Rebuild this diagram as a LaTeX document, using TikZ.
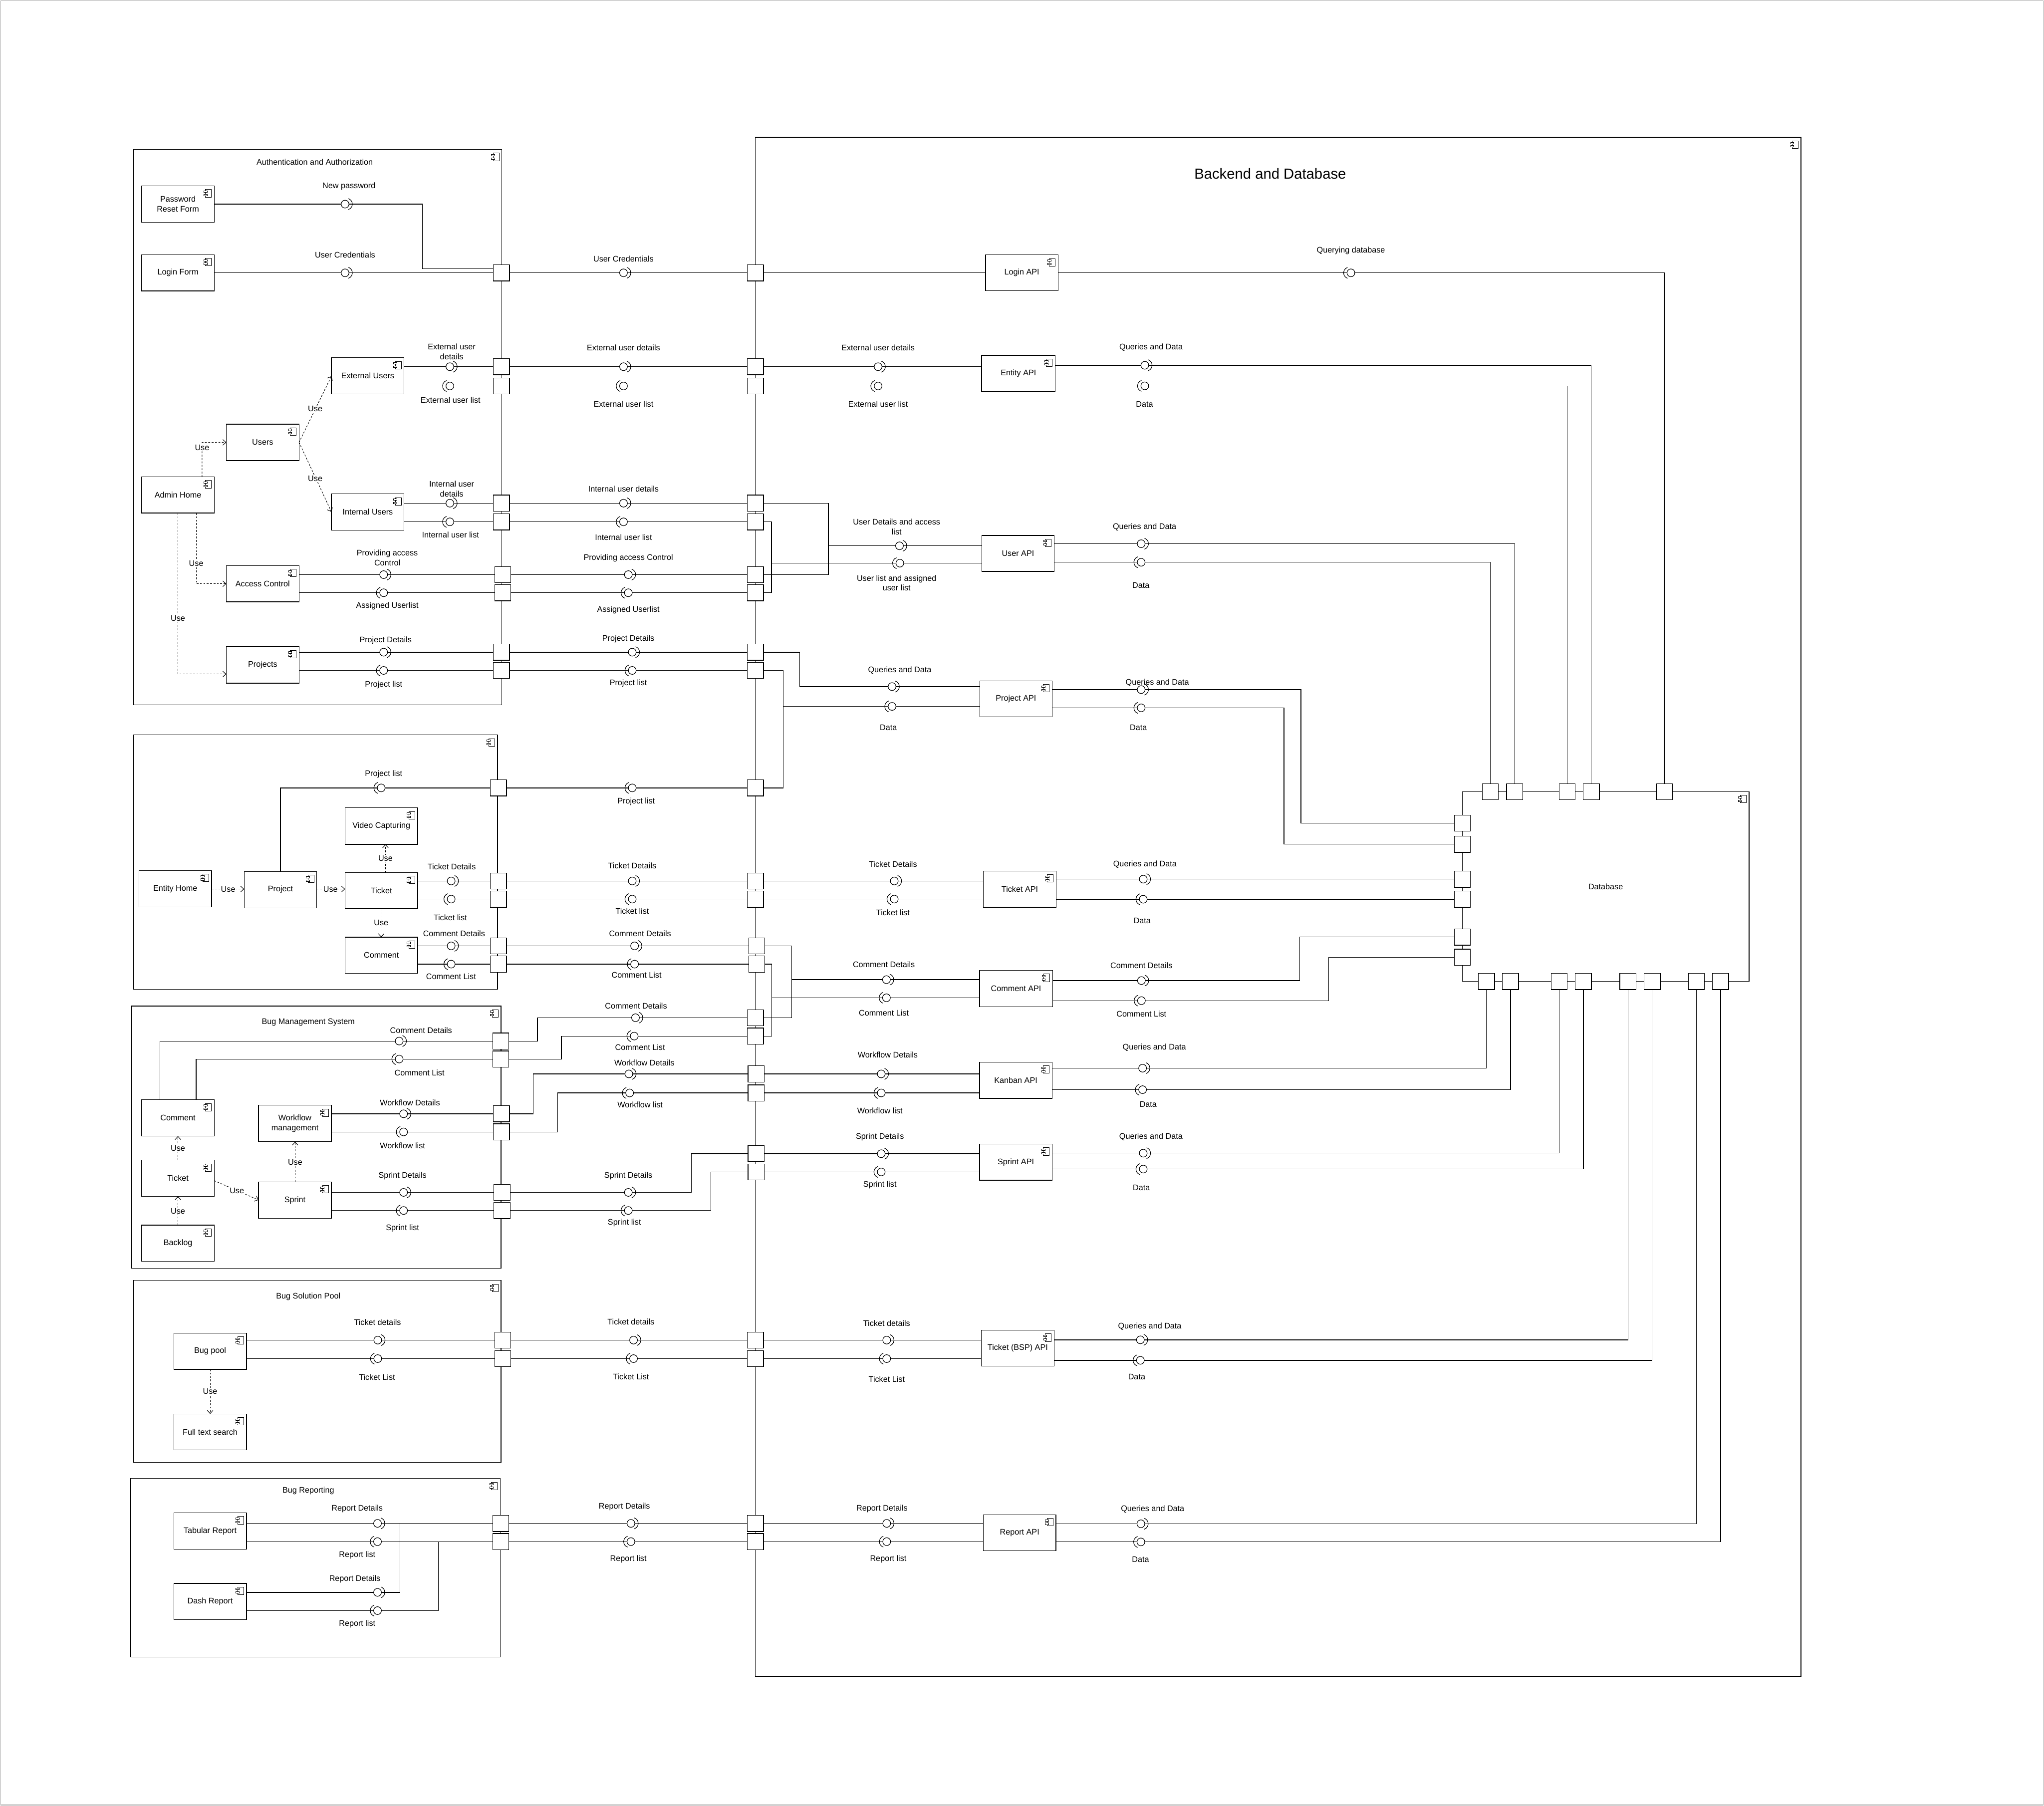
\documentclass[tikz,border=0pt]{standalone}
\usepackage{fontspec}
\setmainfont{Liberation Sans}
\usetikzlibrary{arrows.meta}
\newcommand\lblfont{\fontsize{6.2}{7.6}\selectfont}
\newcommand\ttlfont{\fontsize{11.2}{13}\selectfont}
\newcounter{lbc}
\tikzset{
 comp/.style={draw,line width=0.5pt,inner sep=0pt,outer sep=0pt,align=center,font=\lblfont},
 portbox/.style={draw,fill=white,line width=0.5pt,minimum width=12.4pt,minimum height=12.4pt,inner sep=0pt,outer sep=0pt},
 wire/.style={line width=0.5pt},
 usearr/.style={line width=0.4pt,dash pattern=on 1.4pt off 1.2pt,-{Straight Barb[length=2.4pt,width=4.4pt]}},
 lbl/.style={font=\lblfont,align=center,inner sep=0pt},
 uselbl/.style={font=\lblfont,fill=white,inner sep=0.5pt},
 cicon/.pic={\draw[line width=0.35pt,fill=white] (-4.6pt,0pt) rectangle (0pt,-5.8pt);
   \draw[line width=0.35pt,fill=white] (-5.9pt,-1.0pt) rectangle (-3.3pt,-2.2pt);
   \draw[line width=0.35pt,fill=white] (-5.9pt,-3.6pt) rectangle (-3.3pt,-4.8pt);},
 lolR/.pic={\draw[line width=0.45pt,fill=white] (0pt,0pt) circle[radius=3pt];
   \draw[line width=0.45pt] (1.2pt,0pt) ++(-72:4.4pt) arc[start angle=-72,end angle=72,radius=4.4pt];},
 lolL/.pic={\draw[line width=0.45pt,fill=white] (0pt,0pt) circle[radius=3pt];
   \draw[line width=0.45pt] (-1.2pt,0pt) ++(108:4.4pt) arc[start angle=108,end angle=252,radius=4.4pt];},
}
\newcommand\mkbox[6]{%
 \pgfmathsetmacro\bw{#4-#2}\pgfmathsetmacro\bh{#5-#3}%
 \node[comp,minimum width=\bw pt,minimum height=\bh pt] (#1) at ({(#2+#4)/2},{(#3+#5)/2}) {#6};%
 \pic at ([shift={(-2.2pt,-2.8pt)}]#1.north east) {cicon};}
\newcommand\port[3]{\node[portbox] (#1) at (#2,#3) {};}
\newcommand\lab[3]{\stepcounter{lbc}\node[lbl] (lb\arabic{lbc}) at (#1,#2) {#3};}
\newcommand\uselab[3]{\stepcounter{lbc}\node[uselbl] (lb\arabic{lbc}) at (#1,#2) {#3};}
\newcommand\lolr[2]{\pic at (#1,#2) {lolR};}
\newcommand\loll[2]{\pic at (#1,#2) {lolL};}
\begin{document}
\begin{tikzpicture}[x=1pt,y=-1pt]
\useasboundingbox (0,0) rectangle (1568,1385.2);
\draw[gray!70,line width=0.5pt] (0.6,0.6) rectangle (1567.4,1384.6);

% ---------- containers ----------
\mkbox{auth}{102.5}{114.7}{385}{540.8}{}
\mkbox{ent}{102.5}{563.8}{381.7}{759}{}
\mkbox{bms}{100.9}{771.7}{384.3}{973}{}
\mkbox{bsp}{102.5}{982.2}{384.3}{1121.8}{}
\mkbox{rep}{100.3}{1134.2}{383.7}{1271.1}{}
\mkbox{back}{579.4}{105.3}{1381.6}{1285.8}{}
\mkbox{db}{1121.8}{607.3}{1341.7}{752.9}{Database}

\lab{241.4}{124.3}{Authentication and Authorization}
\stepcounter{lbc}\node[lbl,font=\ttlfont] (lb\arabic{lbc}) at (974.4,133.4) {Backend and Database};
\lab{236.5}{784.2}{Bug Management System}
\lab{236.5}{994.7}{Bug Solution Pool}
\lab{236.5}{1143.5}{Bug Reporting}

% ---------- components ----------
\mkbox{pwd}{108.6}{142.6}{164.4}{170.6}{Password\\Reset Form}
\mkbox{loginf}{108.6}{195.3}{164.4}{223.2}{Login Form}
\mkbox{extu}{254.2}{274.4}{310}{302.1}{External Users}
\mkbox{users}{173.6}{325.4}{229.4}{353.3}{Users}
\mkbox{admin}{108.6}{365.8}{164.4}{393.5}{Admin Home}
\mkbox{intu}{254.2}{378.9}{310}{406.7}{Internal Users}
\mkbox{acc}{173.6}{433.9}{229.4}{461.7}{Access Control}
\mkbox{projs}{173.6}{496.1}{229.4}{524.1}{Projects}

\mkbox{ehome}{106.6}{667.7}{162.3}{695.8}{Entity Home}
\mkbox{eproj}{187.3}{668.5}{243}{696.4}{Project}
\mkbox{eticket}{264.7}{669.3}{320.4}{697.1}{Ticket}
\mkbox{video}{264.7}{619.7}{320.4}{647.7}{Video Capturing}
\mkbox{ecomm}{264.7}{718.9}{320.4}{746.7}{Comment}

\mkbox{bcomm}{108.6}{843.6}{164.4}{871.5}{Comment}
\mkbox{bticket}{108.6}{889.9}{164.4}{917.7}{Ticket}
\mkbox{backlog}{108.6}{939.8}{164.4}{967.6}{Backlog}
\mkbox{wflow}{198.3}{847.8}{254.2}{875.8}{Workflow\\management}
\mkbox{sprint}{198.3}{906.6}{254.2}{934.6}{Sprint}

\mkbox{bugpool}{133.3}{1022.6}{189.1}{1050.4}{Bug pool}
\mkbox{fts}{133.3}{1084.6}{189.1}{1112.3}{Full text search}

\mkbox{tab}{133.3}{1160.5}{189.1}{1188.3}{Tabular Report}
\mkbox{dash}{133.3}{1214.6}{189.1}{1242.5}{Dash Report}

\mkbox{loginapi}{756}{195.5}{811.7}{223}{Login API}
\mkbox{entapi}{753}{272.6}{809.5}{300.5}{Entity API}
\mkbox{userapi}{753.2}{410.7}{808.6}{438.3}{User API}
\mkbox{projapi}{751.6}{522.3}{807.1}{550}{Project API}
\mkbox{tickapi}{754.4}{668.1}{810.2}{695.9}{Ticket API}
\mkbox{commapi}{751.4}{744.4}{807.4}{772.2}{Comment API}
\mkbox{kanapi}{751.4}{814.8}{807.1}{842.6}{Kanban API}
\mkbox{sprapi}{751.4}{877.6}{807.1}{905.4}{Sprint API}
\mkbox{bspapi}{752.8}{1020.4}{808.6}{1048}{Ticket (BSP) API}
\mkbox{repapi}{754.3}{1161.9}{810}{1189.7}{Report API}

% ---------- ports ----------
\port{pa1}{384.7}{209.3}
\port{pa2}{384.7}{281.3}
\port{pa3}{384.7}{296.1}
\port{pa4}{384.7}{386}
\port{pa5}{384.7}{400.3}
\port{pa6}{385.7}{440.8}
\port{pa7}{385.7}{454.7}
\port{pa8}{384.7}{500.3}
\port{pa9}{384.7}{514.3}
\port{pe1}{382.3}{604.4}
\port{pe2}{382.3}{675.8}
\port{pe3}{382.3}{689.7}
\port{pe4}{382.3}{725.6}
\port{pe5}{382.3}{739.6}
\port{pm1}{384.2}{798.6}
\port{pm2}{384.2}{812.4}
\port{pm3}{384.7}{854.4}
\port{pm4}{384.7}{868.3}
\port{pm5}{385.1}{914.7}
\port{pm6}{385.1}{928.6}
\port{ps1}{385.7}{1028}
\port{ps2}{385.7}{1042.2}
\port{pr1}{384.2}{1168.6}
\port{pr2}{384.2}{1182.6}
\port{pb1}{579.5}{209.3}
\port{pb2}{579.5}{281.3}
\port{pb3}{579.5}{296.1}
\port{pb4}{579.5}{386}
\port{pb5}{579.5}{400.3}
\port{pb6}{579.5}{440.8}
\port{pb7}{579.5}{454.7}
\port{pb8}{579.5}{500.3}
\port{pb9}{579.5}{514.3}
\port{pb10}{579.5}{604.4}
\port{pb11}{579.5}{675.8}
\port{pb12}{579.5}{689.7}
\port{pb13}{580.5}{725.6}
\port{pb14}{580.5}{739.6}
\port{pb15}{579.5}{780.7}
\port{pb16}{579.5}{794.8}
\port{pb17}{580}{823.8}
\port{pb18}{580}{838.4}
\port{pb19}{580}{885}
\port{pb20}{580}{899}
\port{pb21}{579.5}{1028}
\port{pb22}{579.5}{1042.2}
\port{pb23}{579.5}{1168.6}
\port{pb24}{579.5}{1182.6}
\port{pt1}{1143.3}{607.3}
\port{pt2}{1161.9}{607.3}
\port{pt3}{1202.2}{607.3}
\port{pt4}{1220.7}{607.3}
\port{pt5}{1276.7}{607.3}
\port{pl1}{1121.8}{631.4}
\port{pl2}{1121.8}{647.6}
\port{pl3}{1121.8}{674.4}
\port{pl4}{1121.8}{689.8}
\port{pl5}{1121.8}{718.8}
\port{pl6}{1121.8}{734.3}
\port{pq1}{1140.3}{752.9}
\port{pq2}{1158.7}{752.9}
\port{pq3}{1196.1}{752.9}
\port{pq4}{1214.6}{752.9}
\port{pq5}{1248.8}{752.9}
\port{pq6}{1267.4}{752.9}
\port{pq7}{1301.4}{752.9}
\port{pq8}{1319.9}{752.9}

% ---------- wires ----------
% password / login
\draw[wire] (pwd.east) -- (324,156.6) -- (324,206.2) -- (pa1.west |- 0,206.2);
\draw[wire] (loginf.east |- pa1) -- (pa1.west);
\draw[wire] (pa1.east) -- (pb1.west);
\draw[wire] (pb1.east) -- (loginapi.west |- pb1);
\draw[wire] (loginapi.east |- pb1) -- (pt5.north |- pb1) -- (pt5.north);
% external users
\draw[wire] (extu.east |- pa2) -- (pa2.west);
\draw[wire] (pa2.east) -- (pb2.west);
\draw[wire] (pb2.east) -- (entapi.west |- pb2);
\draw[wire] (entapi.east |- 0,280.2) -- (pt4.north |- 0,280.2) -- (pt4.north);
\draw[wire] (extu.east |- pa3) -- (pa3.west);
\draw[wire] (pa3.east) -- (pb3.west);
\draw[wire] (pb3.east) -- (entapi.west |- pb3);
\draw[wire] (entapi.east |- 0,296) -- (pt3.north |- 0,296) -- (pt3.north);
% internal users / access control -> User API
\draw[wire] (intu.east |- pa4) -- (pa4.west);
\draw[wire] (pa4.east) -- (pb4.west);
\draw[wire] (pb4.east) -- (635.5,386) -- (635.5,440.8) -- (pb6.east);
\draw[wire] (intu.east |- pa5) -- (pa5.west);
\draw[wire] (pa5.east) -- (pb5.west);
\draw[wire] (pb5.east) -- (591.8,400.3) -- (591.8,454.7) -- (pb7.east);
\draw[wire] (acc.east |- pa6) -- (pa6.west);
\draw[wire] (pa6.east) -- (pb6.west);
\draw[wire] (acc.east |- pa7) -- (pa7.west);
\draw[wire] (pa7.east) -- (pb7.west);
\draw[wire] (635.5,418.7) -- (userapi.west |- 0,418.7);
\draw[wire] (591.8,432) -- (userapi.west |- 0,432);
\draw[wire] (userapi.east |- 0,417.1) -- (pt2.north |- 0,417.1) -- (pt2.north);
\draw[wire] (userapi.east |- 0,431.3) -- (pt1.north |- 0,431.3) -- (pt1.north);
% projects
\draw[wire] (projs.east |- pa8) -- (pa8.west);
\draw[wire] (pa8.east) -- (pb8.west);
\draw[wire] (pb8.east) -- (613.4,500.3) -- (613.4,526.7) -- (projapi.west |- 0,526.7);
\draw[wire] (projs.east |- pa9) -- (pa9.west);
\draw[wire] (pa9.east) -- (pb9.west);
\draw[wire] (pb9.east) -- (600.8,514.3) -- (600.8,541.9) -- (projapi.west |- 0,541.9);
\draw[wire] (600.8,541.9) -- (600.8,604.4) -- (pb10.east);
\draw[wire] (projapi.east |- 0,529) -- (998,529) -- (998,631.4) -- (pl1.west);
\draw[wire] (projapi.east |- 0,543) -- (985,543) -- (985,647.6) -- (pl2.west);
% entity: project list
\draw[wire] (eproj.north) -- (eproj.north |- pe1) -- (pe1.west);
\draw[wire] (pe1.east) -- (pb10.west);
% entity: ticket
\draw[wire] (eticket.east |- pe2) -- (pe2.west);
\draw[wire] (pe2.east) -- (pb11.west);
\draw[wire] (pb11.east) -- (tickapi.west |- pb11);
\draw[wire] (eticket.east |- pe3) -- (pe3.west);
\draw[wire] (pe3.east) -- (pb12.west);
\draw[wire] (pb12.east) -- (tickapi.west |- pb12);
\draw[wire] (tickapi.east |- pl3) -- (pl3.west);
\draw[wire] (tickapi.east |- pl4) -- (pl4.west);
% entity: comment
\draw[wire] (ecomm.east |- pe4) -- (pe4.west);
\draw[wire] (pe4.east) -- (pb13.west);
\draw[wire] (pb13.east) -- (607.3,725.6) -- (607.3,780.7) -- (pb15.east);
\draw[wire] (ecomm.east |- pe5) -- (pe5.west);
\draw[wire] (pe5.east) -- (pb14.west);
\draw[wire] (pb14.east) -- (592,739.6) -- (592,794.8) -- (pb16.east);
\draw[wire] (607.3,751.5) -- (commapi.west |- 0,751.5);
\draw[wire] (592,765.4) -- (commapi.west |- 0,765.4);
\draw[wire] (commapi.east |- 0,752.2) -- (997,752.2) -- (997,718.8) -- (pl5.west);
\draw[wire] (commapi.east |- 0,767.6) -- (1019.3,767.6) -- (1019.3,734.3) -- (pl6.west);
% BMS: comment
\draw[wire] (bcomm.north -| 122.7,0) -- (122.7,798.6) -- (pm1.west);
\draw[wire] (pm1.east) -- (412.3,798.6) -- (412.3,780.7) -- (pb15.west);
\draw[wire] (bcomm.north -| 150.5,0) -- (150.5,812.4) -- (pm2.west);
\draw[wire] (pm2.east) -- (430.6,812.4) -- (430.6,794.8) -- (pb16.west);
% BMS: workflow
\draw[wire] (wflow.east |- pm3) -- (pm3.west);
\draw[wire] (pm3.east) -- (409.1,854.4) -- (409.1,823.8) -- (pb17.west);
\draw[wire] (wflow.east |- pm4) -- (pm4.west);
\draw[wire] (pm4.east) -- (427.7,868.3) -- (427.7,838.4) -- (pb18.west);
\draw[wire] (pb17.east) -- (kanapi.west |- pb17);
\draw[wire] (pb18.east) -- (kanapi.west |- pb18);
\draw[wire] (kanapi.east |- 0,819.4) -- (pq1.south |- 0,819.4) -- (pq1.south);
\draw[wire] (kanapi.east |- 0,835.9) -- (pq2.south |- 0,835.9) -- (pq2.south);
% BMS: sprint
\draw[wire] (sprint.east |- pm5) -- (pm5.west);
\draw[wire] (pm5.east) -- (530.3,914.7) -- (530.3,885) -- (pb19.west);
\draw[wire] (sprint.east |- pm6) -- (pm6.west);
\draw[wire] (pm6.east) -- (545.3,928.6) -- (545.3,899) -- (pb20.west);
\draw[wire] (pb19.east) -- (sprapi.west |- pb19);
\draw[wire] (pb20.east) -- (sprapi.west |- pb20);
\draw[wire] (sprapi.east |- 0,884.6) -- (pq3.south |- 0,884.6) -- (pq3.south);
\draw[wire] (sprapi.east |- 0,896.8) -- (pq4.south |- 0,896.8) -- (pq4.south);
% BSP
\draw[wire] (bugpool.east |- ps1) -- (ps1.west);
\draw[wire] (ps1.east) -- (pb21.west);
\draw[wire] (pb21.east) -- (bspapi.west |- pb21);
\draw[wire] (bugpool.east |- ps2) -- (ps2.west);
\draw[wire] (ps2.east) -- (pb22.west);
\draw[wire] (pb22.east) -- (bspapi.west |- pb22);
\draw[wire] (bspapi.east |- 0,1027.8) -- (pq5.south |- 0,1027.8) -- (pq5.south);
\draw[wire] (bspapi.east |- 0,1043.5) -- (pq6.south |- 0,1043.5) -- (pq6.south);
% Reporting
\draw[wire] (tab.east |- pr1) -- (pr1.west);
\draw[wire] (tab.east |- pr2) -- (pr2.west);
\draw[wire] (dash.east |- 0,1221.5) -- (306.8,1221.5) -- (306.8,1168.6);
\draw[wire] (dash.east |- 0,1235.5) -- (336.2,1235.5) -- (336.2,1182.6);
\draw[wire] (pr1.east) -- (pb23.west);
\draw[wire] (pr2.east) -- (pb24.west);
\draw[wire] (pb23.east) -- (repapi.west |- pb23);
\draw[wire] (pb24.east) -- (repapi.west |- pb24);
\draw[wire] (repapi.east |- 0,1168.9) -- (pq7.south |- 0,1168.9) -- (pq7.south);
\draw[wire] (repapi.east |- 0,1182.8) -- (pq8.south |- 0,1182.8) -- (pq8.south);

% ports on top of wires
\foreach \p in {pa1,pa2,pa3,pa4,pa5,pa6,pa7,pa8,pa9,pe1,pe2,pe3,pe4,pe5,pm1,pm2,pm3,pm4,pm5,pm6,ps1,ps2,pr1,pr2,pb1,pb2,pb3,pb4,pb5,pb6,pb7,pb8,pb9,pb10,pb11,pb12,pb13,pb14,pb15,pb16,pb17,pb18,pb19,pb20,pb21,pb22,pb23,pb24,pt1,pt2,pt3,pt4,pt5,pl1,pl2,pl3,pl4,pl5,pl6,pq1,pq2,pq3,pq4,pq5,pq6,pq7,pq8}
  \draw[line width=0.5pt,fill=white] (\p.north west) rectangle (\p.south east);

% ---------- "Use" dependencies ----------
\draw[usearr] (admin.north -| 155,0) -- (155,339.4) -- (users.west);
\draw[usearr] (users.east) -- (extu.west |- 0,288.6);
\draw[usearr] (users.east) -- (intu.west |- 0,392.6);
\draw[usearr] (admin.south -| 150.5,0) -- (150.5,447.8) -- (acc.west |- 0,447.8);
\draw[usearr] (admin.south -| 136.5,0) -- (136.5,517.1) -- (projs.west |- 0,517.1);
\draw[usearr] (ehome.east |- 0,682) -- (eproj.west |- 0,682);
\draw[usearr] (eproj.east |- 0,682) -- (eticket.west |- 0,682);
\draw[usearr] (eticket.north -| 295.7,0) -- (video.south -| 295.7,0);
\draw[usearr] (eticket.south -| 292.4,0) -- (ecomm.north -| 292.4,0);
\draw[usearr] (bticket.north) -- (bcomm.south);
\draw[usearr] (backlog.north) -- (bticket.south);
\draw[usearr] (bticket.east |- 0,905.7) -- (sprint.west |- 0,920.5);
\draw[usearr] (sprint.north -| 226.4,0) -- (wflow.south -| 226.4,0);
\draw[usearr] (bugpool.south) -- (fts.north);

\uselab{155}{343.2}{Use}
\uselab{241.8}{313.7}{Use}
\uselab{241.8}{367}{Use}
\uselab{150.5}{432.3}{Use}
\uselab{136.5}{474.3}{Use}
\uselab{175}{682}{Use}
\uselab{253.5}{682}{Use}
\uselab{295.7}{658.5}{Use}
\uselab{292.4}{708}{Use}
\uselab{136.5}{880.8}{Use}
\uselab{136.5}{928.9}{Use}
\uselab{181.7}{913.3}{Use}
\uselab{226.4}{891.4}{Use}
\uselab{161.2}{1067.4}{Use}

% ---------- lollipops ----------
\lolr{264.7}{156.6}
\lolr{264.7}{209.3}
\lolr{478.3}{209.3}
\loll{1036.3}{209.3}
\lolr{345.1}{281.3} \loll{345.1}{296.1}
\lolr{478.3}{281.3} \loll{478.3}{296.1}
\lolr{673.6}{281.3} \loll{673.6}{296.1}
\lolr{878.2}{280.2} \loll{878.2}{296}
\lolr{345.1}{386} \loll{345.1}{400.3}
\lolr{478.3}{386} \loll{478.3}{400.3}
\lolr{294.3}{440.8} \loll{294.3}{454.7}
\lolr{482}{440.8} \loll{482}{454.7}
\lolr{690}{418.7} \loll{690.3}{432}
\lolr{875.4}{417.1} \loll{875.4}{431.3}
\lolr{294.3}{500.3} \loll{294.3}{514.3}
\lolr{485}{500.3} \loll{485}{514.3}
\lolr{684.3}{526.7} \loll{684.3}{541.9}
\lolr{875.4}{529} \loll{875.4}{543}
\loll{292.4}{604.4} \loll{485}{604.4}
\lolr{346.1}{675.8} \loll{346.1}{689.7}
\lolr{485}{675.8} \loll{485}{689.7}
\lolr{686}{675.8} \loll{686}{689.7}
\lolr{877}{674.4} \loll{877}{689.8}
\lolr{346.1}{725.6} \loll{346.1}{739.6}
\lolr{486.8}{725.6} \loll{486.8}{739.6}
\lolr{680}{751.5} \loll{680}{765.4}
\lolr{875.6}{752.2} \loll{875.6}{767.6}
\lolr{306.2}{798.6} \loll{306.2}{812.4}
\lolr{487.5}{780.7} \loll{486.5}{794.8}
\lolr{309.6}{854.4} \loll{309.6}{868.3}
\lolr{482.4}{823.8} \loll{483}{838.4}
\lolr{676}{823.8} \loll{676}{838.4}
\lolr{876.5}{819.4} \loll{876.5}{835.9}
\lolr{309.6}{914.7} \loll{309.6}{928.6}
\lolr{482}{914.7} \loll{482}{928.6}
\lolr{676}{885} \loll{676}{899}
\lolr{877}{884.6} \loll{877}{896.8}
\lolr{289.8}{1028} \loll{289.8}{1042.2}
\lolr{486}{1028} \loll{486}{1042.2}
\lolr{680.2}{1028} \loll{680.2}{1042.2}
\lolr{874.8}{1027.8} \loll{874.8}{1043.5}
\lolr{289.6}{1168.6} \loll{289.6}{1182.6}
\lolr{289.6}{1221.5} \loll{289.6}{1235.5}
\lolr{484}{1168.6} \loll{484}{1182.6}
\lolr{680.2}{1168.6} \loll{680.2}{1182.6}
\lolr{875.2}{1168.9} \loll{875.2}{1182.8}

% ---------- interface labels ----------
\lab{267.7}{142.8}{New password}
\lab{264.7}{195.5}{User Credentials}
\lab{346.5}{269.9}{External user\\details}
\lab{345.6}{306.9}{External user list}
\lab{346.5}{375.2}{Internal user\\details}
\lab{345.6}{410.4}{Internal user list}
\lab{297.1}{427.9}{Providing access\\Control}
\lab{297.1}{464.8}{Assigned Userlist}
\lab{295.8}{491.4}{Project Details}
\lab{294.3}{525.5}{Project list}
\lab{294.3}{594}{Project list}
\lab{346.5}{665}{Ticket Details}
\lab{345.4}{703.7}{Ticket list}
\lab{348.3}{716}{Comment Details}
\lab{346}{748.9}{Comment List}
\lab{323}{790.5}{Comment Details}
\lab{321.8}{823.1}{Comment List}
\lab{314.5}{846}{Workflow Details}
\lab{308.8}{878.7}{Workflow list}
\lab{308.8}{902.2}{Sprint Details}
\lab{308.8}{942.1}{Sprint list}
\lab{289.6}{1014.2}{Ticket details}
\lab{289.2}{1056.5}{Ticket List}
\lab{274}{1157.3}{Report Details}
\lab{274}{1193}{Report list}
\lab{272.2}{1211.5}{Report Details}
\lab{274}{1245.6}{Report list}

\lab{478.3}{198.5}{User Credentials}
\lab{478.3}{266.7}{External user details}
\lab{478.3}{310.1}{External user list}
\lab{478.3}{375}{Internal user details}
\lab{478.3}{412}{Internal user list}
\lab{482}{428}{Providing access Control}
\lab{482}{468}{Assigned Userlist}
\lab{482}{490}{Project Details}
\lab{482}{524}{Project list}
\lab{488}{615}{Project list}
\lab{485}{664}{Ticket Details}
\lab{485}{699}{Ticket list}
\lab{491}{716}{Comment Details}
\lab{488.3}{747.8}{Comment List}
\lab{487.9}{771.7}{Comment Details}
\lab{491}{803.5}{Comment List}
\lab{494.3}{815.3}{Workflow Details}
\lab{491}{847.4}{Workflow list}
\lab{482}{902}{Sprint Details}
\lab{479}{938.1}{Sprint list}
\lab{484}{1014}{Ticket details}
\lab{484}{1056}{Ticket List}
\lab{479}{1156}{Report Details}
\lab{482}{1196}{Report list}

\lab{1036.3}{192.2}{Querying database}
\lab{673.6}{266.7}{External user details}
\lab{673.6}{310.1}{External user list}
\lab{687.8}{404.3}{User Details and access\\list}
\lab{687.8}{447.2}{User list and assigned\\user list}
\lab{690.2}{514.3}{Queries and Data}
\lab{681.5}{558}{Data}
\lab{685}{663}{Ticket Details}
\lab{685}{700}{Ticket list}
\lab{678}{740}{Comment Details}
\lab{678}{777}{Comment List}
\lab{681}{809}{Workflow Details}
\lab{675}{852}{Workflow list}
\lab{675}{872}{Sprint Details}
\lab{675}{909}{Sprint list}
\lab{680.2}{1015.2}{Ticket details}
\lab{680.2}{1058}{Ticket List}
\lab{676.6}{1157.5}{Report Details}
\lab{681.4}{1196.2}{Report list}

\lab{883}{266.4}{Queries and Data}
\lab{878}{310}{Data}
\lab{878}{404.3}{Queries and Data}
\lab{875.2}{448.9}{Data}
\lab{887.8}{523.8}{Queries and Data}
\lab{873.3}{558}{Data}
\lab{878.3}{662.9}{Queries and Data}
\lab{876.2}{706.4}{Data}
\lab{875.6}{740.5}{Comment Details}
\lab{875.6}{777.9}{Comment List}
\lab{885.5}{803.5}{Queries and Data}
\lab{880.8}{847}{Data}
\lab{882.9}{872.2}{Queries and Data}
\lab{875.6}{911}{Data}
\lab{882}{1017.4}{Queries and Data}
\lab{872}{1056}{Data}
\lab{884.2}{1157.5}{Queries and Data}
\lab{874.9}{1196.2}{Data}
\end{tikzpicture}
\end{document}
